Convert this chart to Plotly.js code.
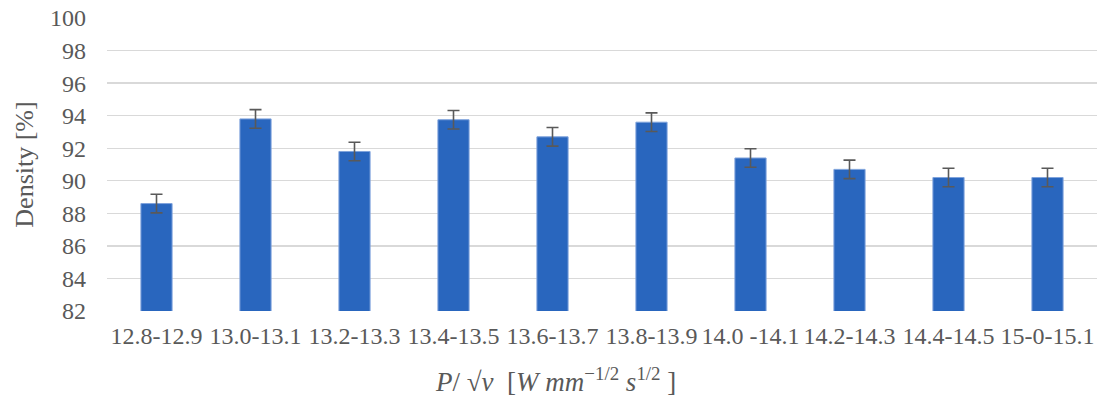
<!DOCTYPE html>
<html>
<head>
<meta charset="utf-8">
<script src="https://cdn.plot.ly/plotly-3.0.1.min.js"></script>
<style>html,body{margin:0;padding:0;background:#fff;}#chart{width:1101px;height:397px;}</style>
</head>
<body>
<div id="chart"></div>
<script>
var categories = ["12.8-12.9","13.0-13.1","13.2-13.3","13.4-13.5","13.6-13.7","13.8-13.9","14.0 -14.1","14.2-14.3","14.4-14.5","15-0-15.1"];
var density = [88.6, 93.8, 91.8, 93.75, 92.7, 93.6, 91.4, 90.7, 90.2, 90.2];
var densityError = [0.57, 0.57, 0.57, 0.57, 0.57, 0.57, 0.57, 0.57, 0.57, 0.57];
var yTicks = [82, 84, 86, 88, 90, 92, 94, 96, 98, 100];
var xTitle = '<i>P</i>/ √<i>v</i>  [<i>W mm</i><sup>−1/2</sup><i> s</i><sup>1/2</sup> ]';

var serif = 'Liberation Serif, Times New Roman, serif';

var trace = {
  type: 'bar',
  x: categories,
  y: density,
  base: 0,
  width: 0.315,
  marker: {color: '#2966BE', line: {color: '#7FA3DC', width: 1}},
  error_y: {type: 'data', array: densityError, visible: true, color: '#595959', thickness: 1.6, width: 6}
};

var layout = {
  width: 1101, height: 397,
  margin: {l: 107, r: 4, t: 18, b: 86},
  paper_bgcolor: '#fff', plot_bgcolor: '#fff',
  font: {family: serif, color: '#595959', size: 24},
  showlegend: false,
  xaxis: {
    type: 'category',
    showgrid: false, zeroline: false, showline: false,
    ticks: '', ticklabelstandoff: 8,
    tickfont: {family: serif, size: 24, color: '#595959'}
  },
  yaxis: {
    range: [82, 100],
    tickvals: yTicks,
    ticktext: yTicks.map(String),
    showgrid: true, gridcolor: '#D9D9D9', gridwidth: 1.4,
    zeroline: false, showline: false, ticks: '',
    ticklabelstandoff: 20,
    tickfont: {family: serif, size: 24, color: '#595959'},
    title: {text: 'Density [%]', font: {family: serif, size: 26, color: '#595959'}, standoff: 8}
  },
  annotations: [{
    text: xTitle,
    xref: 'paper', yref: 'paper',
    x: 0.4535, y: -0.235,
    xanchor: 'center', yanchor: 'middle',
    showarrow: false,
    font: {family: serif, size: 27, color: '#595959'}
  }]
};

Plotly.newPlot('chart', [trace], layout, {staticPlot: true, displayModeBar: false});
</script>
</body>
</html>
